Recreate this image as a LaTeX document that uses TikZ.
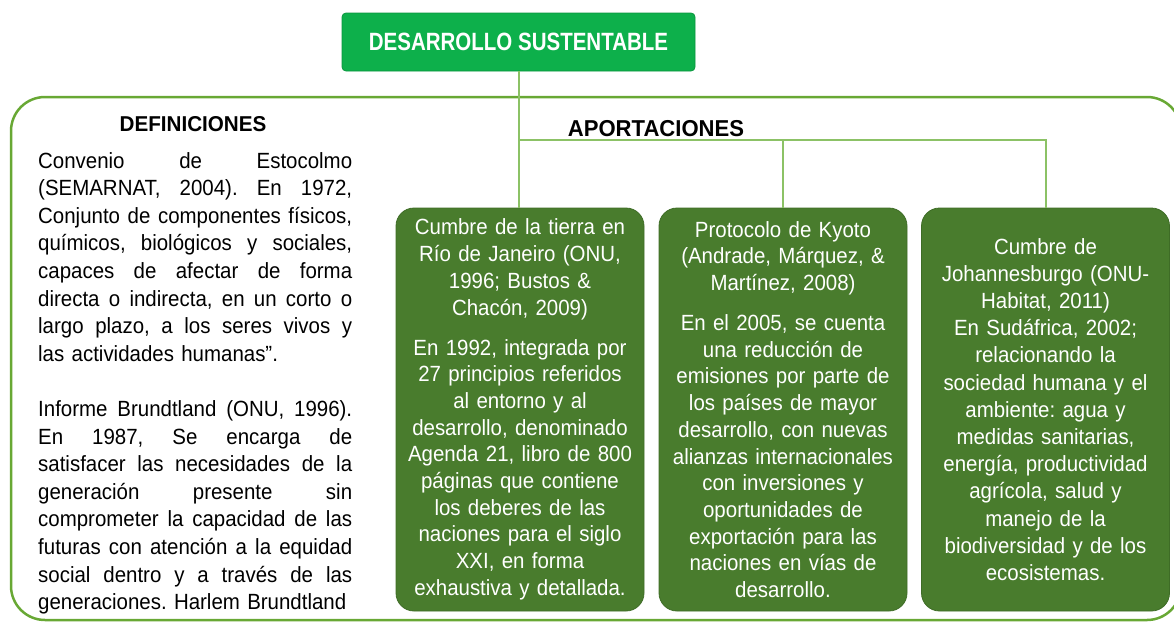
\documentclass[tikz,border=0pt]{standalone}
\usepackage{fontspec}
\setmainfont{Liberation Sans}
\newfontfamily\bodyf[FakeStretch=0.93]{Liberation Sans}
\newfontfamily\titlef[FakeStretch=0.82]{Liberation Sans}
\newfontfamily\hdrf[FakeStretch=0.96]{Liberation Sans}
\definecolor{titlegreen}{RGB}{13,176,75}
\definecolor{titleedge}{RGB}{10,150,62}
\definecolor{boxgreen}{RGB}{73,124,45}
\definecolor{boxedge}{RGB}{62,108,38}
\definecolor{framegreen}{RGB}{104,168,52}
\definecolor{conngreen}{RGB}{140,194,102}
\newcommand\jline[1]{\makebox[314pt][s]{\spaceskip=0pt\xspaceskip=0pt\relax #1}}
\frenchspacing
\begin{document}
\begin{tikzpicture}[x=1pt,y=-1pt,
  titlebox/.style={draw=titleedge, line width=0.8pt, fill=titlegreen, rounded corners=4pt,
    minimum width=353pt, minimum height=58pt, inner sep=0pt, text=white,
    font=\titlef\bfseries\fontsize{25}{30}\selectfont},
  hdr/.style={inner sep=0pt, text=black, font=\hdrf\bfseries\fontsize{21.5}{26}\selectfont},
  gbox/.style={draw=boxedge, line width=0.8pt, fill=boxgreen, rounded corners=18pt,
    minimum width=248pt, minimum height=403pt, text width=240pt, align=center,
    inner sep=0pt, text=white, font=\bodyf\fontsize{22}{26.7}\selectfont},
  deftext/.style={inner sep=0pt, text width=314pt, align=left, text=black,
    font=\bodyf\fontsize{22}{27.6}\selectfont},
  conn/.style={draw=conngreen, line width=2pt},
  frame/.style={draw=framegreen, line width=2.5pt, rounded corners=34pt}
]
\useasboundingbox (0,0) rectangle (1174,621);
\clip (0,0) rectangle (1174,621);

% outer frame
\draw[frame] (11,97) rectangle (1181,620);

% title
\node[titlebox] (t) at (518.5,42) {DESARROLLO SUSTENTABLE};

% headers
\node[hdr, anchor=base] (def) at (193,131) {DEFINICIONES};
\node[hdr, anchor=base, font=\hdrf\bfseries\fontsize{23}{27}\selectfont] (apo) at (656,136) {APORTACIONES};

% definitions text
\node[deftext, anchor=north west] (dtext) at (38,152) {%
\jline{Convenio de Estocolmo}\\
\jline{(SEMARNAT, 2004). En 1972,}\\
\jline{Conjunto de componentes físicos,}\\
\jline{químicos, biológicos y sociales,}\\
\jline{capaces de afectar de forma}\\
\jline{directa o indirecta, en un corto o}\\
\jline{largo plazo, a los seres vivos y}\\
las actividades humanas”.\\[27.6pt]
\jline{Informe Brundtland (ONU, 1996).}\\
\jline{En 1987, Se encarga de}\\
\jline{satisfacer las necesidades de la}\\
\jline{generación presente sin}\\
\jline{comprometer la capacidad de las}\\
\jline{futuras con atención a la equidad}\\
\jline{social dentro y a través de las}\\
generaciones. Harlem Brundtland};

% green boxes
\node[gbox] (b1) at (520,409.5) {%
Cumbre de la tierra en\\
Río de Janeiro (ONU,\\
1996; Bustos \&\\
Chacón, 2009)\\[13.3pt]
En 1992, integrada por\\
27 principios referidos\\
al entorno y al\\
desarrollo, denominado\\
Agenda 21, libro de 800\\
páginas que contiene\\
los deberes de las\\
naciones para el siglo\\
XXI, en forma\\
exhaustiva y detallada.};

\node[gbox] (b2) at (783,409.5) {%
Protocolo de Kyoto\\
(Andrade, Márquez, \&\\
Martínez, 2008)\\[13.3pt]
En el 2005, se cuenta\\
una reducción de\\
emisiones por parte de\\
los países de mayor\\
desarrollo, con nuevas\\
alianzas internacionales\\
con inversiones y\\
oportunidades de\\
exportación para las\\
naciones en vías de\\
desarrollo.};

\node[gbox, font=\bodyf\fontsize{22}{27.2}\selectfont] (b3) at (1045.5,409.5) {%
Cumbre de\\
Johannesburgo (ONU-\\
Habitat, 2011)\\
En Sudáfrica, 2002;\\
relacionando la\\
sociedad humana y el\\
ambiente: agua y\\
medidas sanitarias,\\
energía, productividad\\
agrícola, salud y\\
manejo de la\\
biodiversidad y de los\\
ecosistemas.};

% connectors
\coordinate (hy) at (0,140);
\draw[conn] (t.south) -- (t.south |- b1.north);
\draw[conn] (t.south |- hy) -| (b3.north);
\draw[conn] (b2.north |- hy) -- (b2.north);
\end{tikzpicture}
\end{document}
